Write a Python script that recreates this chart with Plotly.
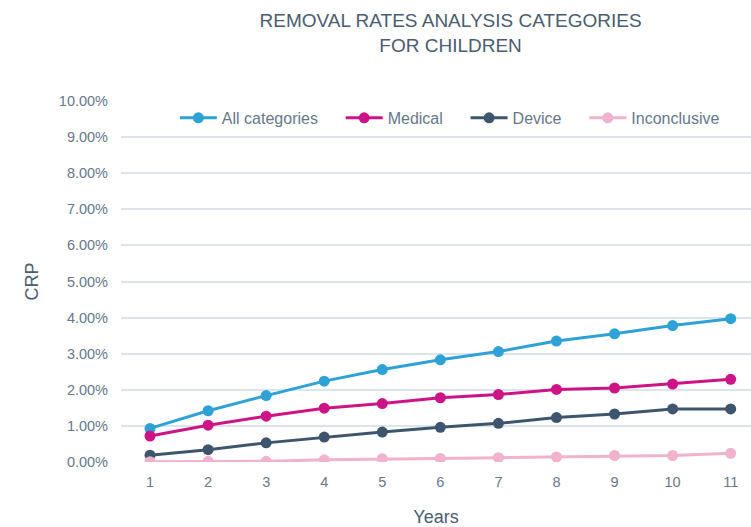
import plotly.graph_objects as go

years = [1, 2, 3, 4, 5, 6, 7, 8, 9, 10, 11]
all_categories = [0.93, 1.42, 1.84, 2.24, 2.56, 2.83, 3.06, 3.35, 3.55, 3.78, 3.97]
medical = [0.72, 1.02, 1.27, 1.49, 1.62, 1.78, 1.87, 2.01, 2.05, 2.16, 2.29]
device = [0.19, 0.34, 0.53, 0.69, 0.83, 0.96, 1.07, 1.23, 1.33, 1.47, 1.47]
inconclusive = [0.01, 0.02, 0.02, 0.06, 0.09, 0.10, 0.12, 0.14, 0.18, 0.18, 0.24]

series = [
    ("All categories", all_categories, "#2ea2d6"),
    ("Medical", medical, "#cc1487"),
    ("Device", device, "#3e566d"),
    ("Inconclusive", inconclusive, "#f0b2cc"),
]

font_family = "Liberation Sans, Arial, sans-serif"
text_color = "#66788a"
title_color = "#4a5d70"
grid_color = "#dde5ec"

fig = go.Figure()
for i, (name, values, color) in enumerate(series):
    # trailing no-break spaces widen the gap between legend entries
    pad = "\u00a0" * 4 if i < len(series) - 1 else ""
    fig.add_trace(go.Scatter(
        x=years,
        y=values,
        name=name + pad,
        mode="lines+markers",
        line={"color": color, "width": 3},
        marker={"color": color, "size": 11},
    ))

fig.update_layout(
    width=751,
    height=527,
    margin={"l": 121, "r": 0, "t": 101, "b": 65},
    paper_bgcolor="white",
    plot_bgcolor="white",
    font={"family": font_family, "color": text_color, "size": 14},
    title={
        "text": "REMOVAL RATES ANALYSIS CATEGORIES<br>FOR CHILDREN",
        "x": 0.6,
        "xref": "container",
        "xanchor": "center",
        "y": 0.948,
        "yref": "container",
        "yanchor": "top",
        "font": {"size": 19, "color": title_color, "family": font_family},
    },
    legend={
        "orientation": "h",
        "x": 0.522,
        "xanchor": "center",
        "y": 0.953,
        "yanchor": "middle",
        "bgcolor": "white",
        "font": {"size": 16, "color": text_color},
        "itemwidth": 37,
    },
    showlegend=True,
)

fig.update_xaxes(
    range=[0.5, 11.35],
    tickvals=years,
    showgrid=False,
    zeroline=False,
    showline=False,
    ticklabelstandoff=9,
    tickfont={"size": 14.5, "color": text_color},
    title={"text": "Years", "font": {"size": 18, "color": title_color}, "standoff": 22},
)

fig.update_yaxes(
    range=[0, 10],
    dtick=1,
    tickformat=".2f",
    ticksuffix="%",
    showgrid=True,
    gridcolor=grid_color,
    gridwidth=1.5,
    zeroline=False,
    showline=False,
    ticklabelstandoff=12,
    tickfont={"size": 14.5, "color": text_color},
    title={"text": "CRP", "font": {"size": 18, "color": title_color}, "standoff": 15},
)

fig.write_html(
    "out.html",
    config={"displayModeBar": False},
    post_script="document.body.style.margin='0';",
)
